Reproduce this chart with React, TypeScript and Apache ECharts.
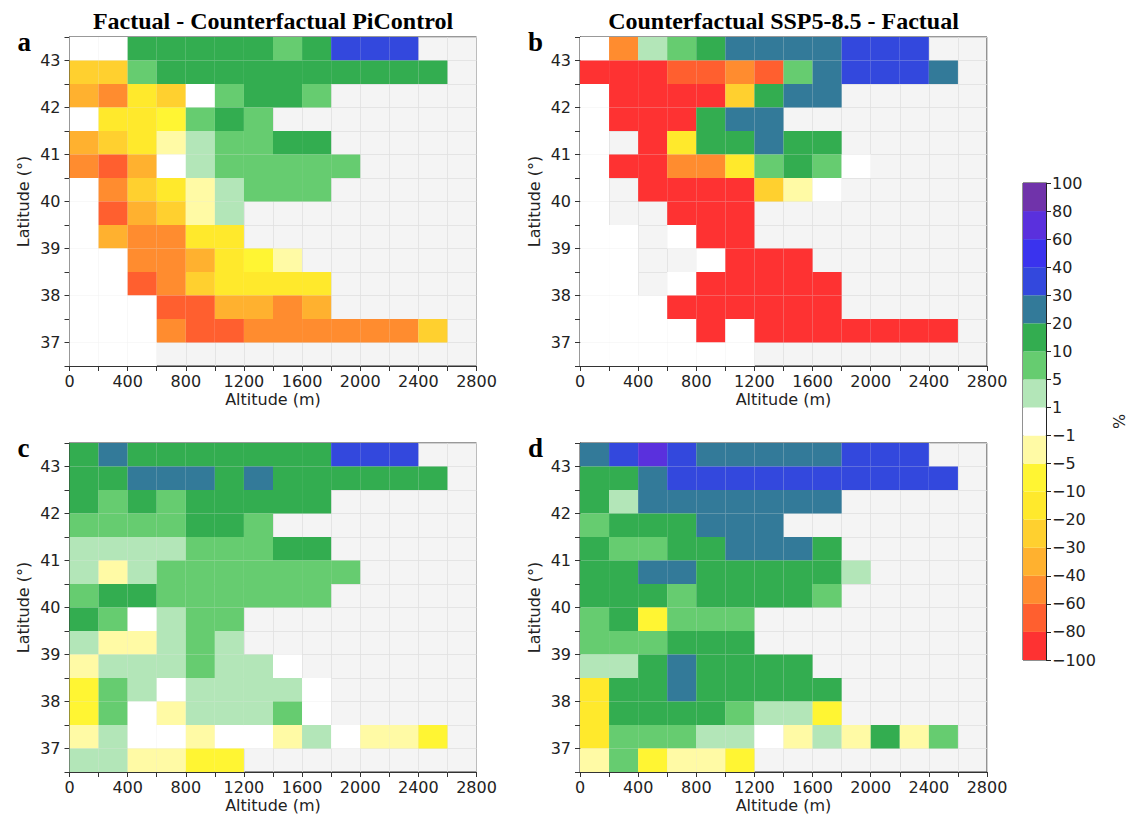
import React, { useEffect, useRef } from "react";
import * as echarts from "echarts";

// Altitude bin starts (m) – each cell spans 200 m
const altitudeBins = [0, 200, 400, 600, 800, 1000, 1200, 1400, 1600, 1800, 2000, 2200, 2400, 2600];
// Latitude bin starts (°), top row first – each cell spans 0.5°
const latitudeBins = [43, 42.5, 42, 41.5, 41, 40.5, 40, 39.5, 39, 38.5, 38, 37.5, 37, 36.5];

const N = null;

// a: Factual - Counterfactual PiControl (%)
const panelA = [
  [0, 0, 15, 15, 15, 15, 15, 7, 15, 35, 35, 35, N, N],
  [-25, -25, 7, 15, 15, 15, 15, 15, 15, 15, 15, 15, 15, N],
  [-35, -50, -12, -25, 0, 7, 15, 15, 7, N, N, N, N, N],
  [0, -12, -12, -7, 7, 15, 7, N, N, N, N, N, N, N],
  [-35, -25, -12, -3, 3, 7, 7, 15, 15, N, N, N, N, N],
  [-50, -70, -35, 0, 3, 7, 7, 7, 7, 7, N, N, N, N],
  [0, -50, -25, -12, -3, 3, 7, 7, 7, N, N, N, N, N],
  [0, -70, -35, -25, -3, 3, N, N, N, N, N, N, N, N],
  [0, -35, -50, -50, -12, -12, N, N, N, N, N, N, N, N],
  [0, 0, -50, -50, -35, -12, -7, -3, N, N, N, N, N, N],
  [0, 0, -70, -50, -25, -12, -12, -12, -12, N, N, N, N, N],
  [0, 0, 0, -70, -70, -35, -35, -50, -35, N, N, N, N, N],
  [0, 0, 0, -50, -70, -70, -50, -50, -50, -50, -50, -50, -25, N],
  [0, 0, 0, N, N, N, N, N, N, N, N, N, N, N],
];

// b: Counterfactual SSP5-8.5 - Factual (%)
const panelB = [
  [0, -50, 3, 7, 15, 25, 25, 25, 25, 35, 35, 35, N, N],
  [-90, -90, -90, -70, -70, -50, -70, 7, 25, 35, 35, 35, 25, N],
  [0, -90, -90, -90, -90, -25, 15, 25, 25, N, N, N, N, N],
  [0, -90, -90, -90, 15, 25, 25, N, N, N, N, N, N, N],
  [0, N, -90, -12, 15, 15, 25, 15, 15, N, N, N, N, N],
  [0, -90, -90, -50, -50, -12, 7, 15, 7, 0, N, N, N, N],
  [0, N, -90, -90, -90, -90, -25, -3, 0, N, N, N, N, N],
  [0, N, N, -90, -90, -90, N, N, N, N, N, N, N, N],
  [0, 0, N, 0, -90, -90, N, N, N, N, N, N, N, N],
  [0, 0, N, N, 0, -90, -90, -90, N, N, N, N, N, N],
  [0, 0, N, 0, -90, -90, -90, -90, -90, N, N, N, N, N],
  [0, 0, 0, -90, -90, -90, -90, -90, -90, N, N, N, N, N],
  [0, 0, 0, 0, -90, 0, -90, -90, -90, -90, -90, -90, -90, N],
  [0, 0, 0, 0, 0, 0, N, N, N, N, N, N, N, N],
];

// c
const panelC = [
  [15, 25, 15, 15, 15, 15, 15, 15, 15, 35, 35, 35, N, N],
  [15, 15, 25, 25, 25, 15, 25, 15, 15, 15, 15, 15, 15, N],
  [15, 7, 15, 7, 15, 15, 15, 15, 15, N, N, N, N, N],
  [7, 7, 7, 7, 15, 15, 7, N, N, N, N, N, N, N],
  [3, 3, 3, 3, 7, 7, 7, 15, 15, N, N, N, N, N],
  [3, -3, 3, 7, 7, 7, 7, 7, 7, 7, N, N, N, N],
  [7, 15, 15, 7, 7, 7, 7, 7, 7, N, N, N, N, N],
  [15, 7, 0, 3, 7, 7, N, N, N, N, N, N, N, N],
  [3, -3, -3, 3, 7, 3, N, N, N, N, N, N, N, N],
  [-3, 3, 3, 3, 7, 3, 3, 0, N, N, N, N, N, N],
  [-7, 7, 3, 0, 3, 3, 3, 3, 0, N, N, N, N, N],
  [-7, 7, 0, -3, 3, 3, 3, 7, 0, N, N, N, N, N],
  [-3, 3, 0, 0, -3, 0, 0, -3, 3, 0, -3, -3, -7, N],
  [3, 3, -3, -3, -7, -7, N, N, N, N, N, N, N, N],
];

// d
const panelD = [
  [25, 35, 65, 35, 25, 25, 25, 25, 25, 35, 35, 35, N, N],
  [15, 15, 25, 35, 35, 35, 35, 35, 35, 35, 35, 35, 35, N],
  [15, 3, 25, 25, 25, 25, 25, 25, 25, N, N, N, N, N],
  [7, 15, 15, 15, 25, 25, 25, N, N, N, N, N, N, N],
  [15, 7, 7, 15, 15, 25, 25, 25, 15, N, N, N, N, N],
  [15, 15, 25, 25, 15, 15, 15, 15, 15, 3, N, N, N, N],
  [15, 15, 15, 7, 15, 15, 15, 15, 7, N, N, N, N, N],
  [7, 15, -7, 7, 7, 7, N, N, N, N, N, N, N, N],
  [7, 7, 7, 15, 15, 15, N, N, N, N, N, N, N, N],
  [3, 3, 15, 25, 15, 15, 15, 15, N, N, N, N, N, N],
  [-12, 15, 15, 25, 15, 15, 15, 15, 15, N, N, N, N, N],
  [-12, 15, 15, 15, 15, 7, 3, 3, -7, N, N, N, N, N],
  [-12, 7, 7, 7, 3, 3, 0, -3, 3, -3, 15, -3, 7, N],
  [-3, 7, -7, -3, -3, -7, N, N, N, N, N, N, N, N],
];

const panels = [panelA, panelB, panelC, panelD];
const panelLetters = ["a", "b", "c", "d"];
const panelTitles = ["Factual - Counterfactual PiControl", "Counterfactual SSP5-8.5 - Factual"];

// Colour-bar boundaries and bin colours
const bounds = [-100, -80, -60, -40, -30, -20, -10, -5, -1, 1, 5, 10, 20, 30, 40, 60, 80, 100];
const binColors = [
  "#fe3232", "#ff5f2f", "#ff8c2f", "#ffb12f", "#ffd02f", "#ffe92c", "#fff533", "#fffaa5",
  "#ffffff",
  "#b3e6b8", "#66cc70", "#33ad50", "#337a99", "#3348dd", "#3a33ee", "#5a30dd", "#7033aa",
];
const boundLabels = bounds.map((b) => (b < 0 ? "\u2212" + Math.abs(b) : String(b)));

function colorFor(v: number): string {
  for (let i = 0; i < binColors.length; i++) {
    if (v < bounds[i + 1]) return binColors[i];
  }
  return binColors[binColors.length - 1];
}

const PW = 407;
const PH = 329;
const positions = [
  { left: 69.5, top: 37 },
  { left: 580, top: 37 },
  { left: 69.5, top: 443 },
  { left: 580, top: 443 },
];
const CB = { left: 1023, top: 183, width: 23, height: 477 };

const TICK_FONT = "DejaVu Sans";
const AX = "#333";

export default function App() {
  const ref = useRef<HTMLDivElement>(null);

  useEffect(() => {
    if (!ref.current) return;
    const chart = echarts.init(ref.current, null, { renderer: "svg" });

    const grid: any[] = [];
    const xAxis: any[] = [];
    const yAxis: any[] = [];
    const series: any[] = [];
    const graphic: any[] = [];

    positions.forEach((p, i) => {
      grid.push({
        left: p.left,
        top: p.top,
        width: PW,
        height: PH,
        show: true,
        backgroundColor: "#f4f4f4",
        borderColor: AX,
        borderWidth: 1,
      });
      xAxis.push({
        type: "value",
        gridIndex: i,
        min: 0,
        max: 2800,
        interval: 200,
        axisLine: { show: true, onZero: false, lineStyle: { color: AX, width: 1 } },
        axisTick: { show: true, inside: false, length: 5, lineStyle: { color: AX } },
        axisLabel: {
          margin: 7,
          fontFamily: TICK_FONT,
          fontSize: 16,
          color: "#222",
          formatter: (v: number) => (v % 400 === 0 ? String(v) : ""),
        },
        splitLine: { show: true, lineStyle: { color: "#e0e0e0", width: 0.8 } },
      });
      yAxis.push({
        type: "value",
        gridIndex: i,
        min: 36.5,
        max: 43.5,
        interval: 0.5,
        axisLine: { show: true, onZero: false, lineStyle: { color: AX, width: 1 } },
        axisTick: { show: true, inside: false, length: 5, lineStyle: { color: AX } },
        axisLabel: {
          margin: 9,
          fontFamily: TICK_FONT,
          fontSize: 16,
          color: "#222",
          formatter: (v: number) => (Number.isInteger(v) ? String(v) : ""),
        },
        splitLine: { show: true, lineStyle: { color: "#e0e0e0", width: 0.8 } },
      });

      const data: any[] = [];
      panels[i].forEach((row, r) => {
        row.forEach((v, c) => {
          if (v !== null) data.push([altitudeBins[c], latitudeBins[r], v]);
        });
      });
      series.push({
        type: "custom",
        xAxisIndex: i,
        yAxisIndex: i,
        coordinateSystem: "cartesian2d",
        encode: { x: 0, y: 1 },
        data,
        renderItem: (params: any, api: any) => {
          const x0 = api.value(0);
          const y0 = api.value(1);
          const v = api.value(2);
          const p1 = api.coord([x0, y0 + 0.5]);
          const p2 = api.coord([x0 + 200, y0]);
          return {
            type: "rect",
            shape: { x: p1[0], y: p1[1], width: p2[0] - p1[0], height: p2[1] - p1[1] },
            style: { fill: colorFor(v), stroke: null },
          };
        },
        silent: true,
      });

      // panel letter
      graphic.push({
        type: "text",
        x: p.left - 52,
        y: p.top + 18,
        style: {
          text: panelLetters[i],
          font: "bold 27px 'Liberation Serif', 'Times New Roman', serif",
          fill: "#000",
          align: "left",
          verticalAlign: "bottom",
        },
      });
      // y label
      graphic.push({
        type: "text",
        x: p.left - 46,
        y: p.top + PH / 2,
        rotation: Math.PI / 2,
        style: {
          text: "Latitude (\u00b0)",
          font: "16px 'DejaVu Sans'",
          fill: "#222",
          align: "center",
          verticalAlign: "middle",
        },
      });
      // x label
      graphic.push({
        type: "text",
        x: p.left + PW / 2,
        y: p.top + PH + 33,
        style: {
          text: "Altitude (m)",
          font: "16px 'DejaVu Sans'",
          fill: "#222",
          align: "center",
          verticalAlign: "middle",
        },
      });
      if (i < 2) {
        graphic.push({
          type: "text",
          x: p.left + PW / 2,
          y: 21,
          style: {
            text: panelTitles[i],
            font: "bold 24px 'Liberation Serif', 'Times New Roman', serif",
            fill: "#000",
            align: "center",
            verticalAlign: "middle",
          },
        });
      }
    });

    // colour bar
    grid.push({
      left: CB.left,
      top: CB.top,
      width: CB.width,
      height: CB.height,
      show: true,
      backgroundColor: "transparent",
      borderColor: "#222",
      borderWidth: 1,
    });
    xAxis.push({ type: "value", gridIndex: 4, min: 0, max: 1, show: false });
    yAxis.push({
      type: "value",
      gridIndex: 4,
      min: 0,
      max: binColors.length,
      interval: 1,
      position: "right",
      axisLine: { show: true, onZero: false, lineStyle: { color: "#222" } },
      axisTick: { show: true, inside: false, length: 5, lineStyle: { color: "#222" } },
      axisLabel: {
        margin: 6,
        fontFamily: TICK_FONT,
        fontSize: 16,
        color: "#222",
        formatter: (v: number) => boundLabels[Math.round(v)] ?? "",
      },
      splitLine: { show: false },
    });
    series.push({
      type: "custom",
      xAxisIndex: 4,
      yAxisIndex: 4,
      coordinateSystem: "cartesian2d",
      encode: { x: 0, y: 1 },
      data: binColors.map((_, k) => [0, k]),
      renderItem: (params: any, api: any) => {
        const k = api.value(1);
        const p1 = api.coord([0, k + 1]);
        const p2 = api.coord([1, k]);
        return {
          type: "rect",
          shape: { x: p1[0], y: p1[1], width: p2[0] - p1[0], height: p2[1] - p1[1] },
          style: { fill: binColors[k], stroke: null },
        };
      },
      silent: true,
    });
    graphic.push({
      type: "text",
      x: 1119,
      y: CB.top + CB.height / 2,
      rotation: Math.PI / 2,
      style: {
        text: "%",
        font: "16px 'DejaVu Sans'",
        fill: "#222",
        align: "center",
        verticalAlign: "middle",
      },
    });

    chart.setOption({
      animation: false,
      backgroundColor: "#ffffff",
      grid,
      xAxis,
      yAxis,
      series,
      graphic,
    });

    return () => chart.dispose();
  }, []);

  return (
    <div
      ref={ref}
      style={{ position: "fixed", left: 0, top: 0, width: 1131, height: 817, background: "#fff" }}
    />
  );
}
